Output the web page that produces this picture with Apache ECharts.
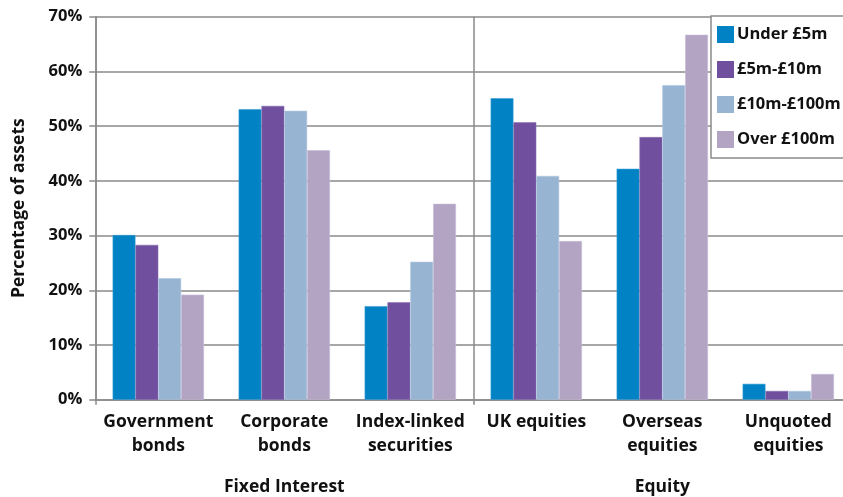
<!DOCTYPE html>
<html>
<head>
<meta charset="utf-8">
<script src="https://cdn.jsdelivr.net/npm/echarts@6/dist/echarts.min.js"></script>
<style>html,body{margin:0;padding:0;background:#fff}#c{width:843px;height:497px}</style>
</head>
<body>
<div id="c"></div>
<script>
var categories = ['Government\nbonds', 'Corporate\nbonds', 'Index-linked\nsecurities', 'UK equities', 'Overseas\nequities', 'Unquoted\nequities'];
var groups = ['Fixed Interest', 'Equity'];
var seriesNames = ['Under £5m', '£5m-£10m', '£10m-£100m', 'Over £100m'];
var under5m = [30.1, 53.1, 17.1, 55.1, 42.2, 2.9];
var from5to10m = [28.3, 53.7, 17.8, 50.7, 48.0, 1.6];
var from10to100m = [22.2, 52.8, 25.2, 40.9, 57.5, 1.6];
var over100m = [19.2, 45.6, 35.8, 29.0, 66.7, 4.7];
var yTicks = [0, 10, 20, 30, 40, 50, 60, 70];

var colors = ['#0082c4', '#704f9e', '#97b4d3', '#b3a4c4'];
var borders = ['#3a9fd4', '#8a70b2', '#b2c8e0', '#c8bcd6'];
var values = [under5m, from5to10m, from10to100m, over100m];
var FONT = '"Open Sans", "DejaVu Sans", sans-serif';
var chart = echarts.init(document.getElementById('c'));
var series = seriesNames.map(function (n, i) {
  return {
    name: n, type: 'bar', xAxisIndex: 0, data: values[i],
    barGap: '0%', barCategoryGap: '27.5%',
    itemStyle: { color: colors[i], borderColor: borders[i], borderWidth: 0.6 }
  };
});
chart.setOption({
  animation: false,
  color: colors,
  grid: { left: 95.3, width: 756, top: 16.7, height: 383, containLabel: false, outerBoundsMode: 'none' },
  legend: {
    orient: 'vertical', left: 711, top: 16,
    backgroundColor: '#fff', borderColor: '#8a8a8a', borderWidth: 1.5,
    padding: [10, 20, 10, 6],
    itemWidth: 17, itemHeight: 17, itemGap: 18,
    icon: 'rect',
    itemStyle: { borderWidth: 0 },
    textStyle: { fontFamily: FONT, fontWeight: 'bold', fontSize: 16.5, color: '#111', lineHeight: 17, padding: [0, 0, 0, -2] },
    data: seriesNames
  },
  xAxis: [{
    type: 'category', data: categories, position: 'bottom',
    axisLine: { show: true, lineStyle: { color: '#8a8a8a', width: 1.5 } },
    axisTick: { show: false },
    axisLabel: { fontFamily: FONT, fontWeight: 'bold', fontSize: 17.5, color: '#111', lineHeight: 24, margin: 10, interval: 0 },
    splitLine: { show: false }
  }, {
    type: 'category', data: groups, position: 'bottom',
    axisLine: { show: false },
    axisTick: { show: true, alignWithLabel: false, interval: 0, length: 5, lineStyle: { color: '#8a8a8a', width: 1.5 } },
    axisLabel: { fontFamily: FONT, fontWeight: 'bold', fontSize: 17.5, color: '#111', lineHeight: 20, margin: 77, interval: 0 },
    splitLine: { show: true, interval: 0, lineStyle: { color: '#8a8a8a', width: 1.5 } }
  }],
  yAxis: {
    type: 'value', min: 0, max: 70, interval: 10,
    name: 'Percentage of assets', nameLocation: 'middle', nameGap: 67,
    nameTextStyle: { fontFamily: FONT, fontWeight: 'bold', fontSize: 17.5, color: '#111' },
    axisLine: { show: true, lineStyle: { color: '#8a8a8a', width: 1.5 } },
    axisTick: { show: true, length: 6, lineStyle: { color: '#8a8a8a', width: 1.5 } },
    axisLabel: {
      fontFamily: FONT, fontWeight: 'bold', fontSize: 16.5, color: '#111', margin: 13,
      formatter: function (v) { return yTicks.indexOf(v) >= 0 ? v + '%' : ''; }
    },
    splitLine: { show: true, lineStyle: { color: '#8a8a8a', width: 1.5 } }
  },
  series: series
});
</script>
</body>
</html>
